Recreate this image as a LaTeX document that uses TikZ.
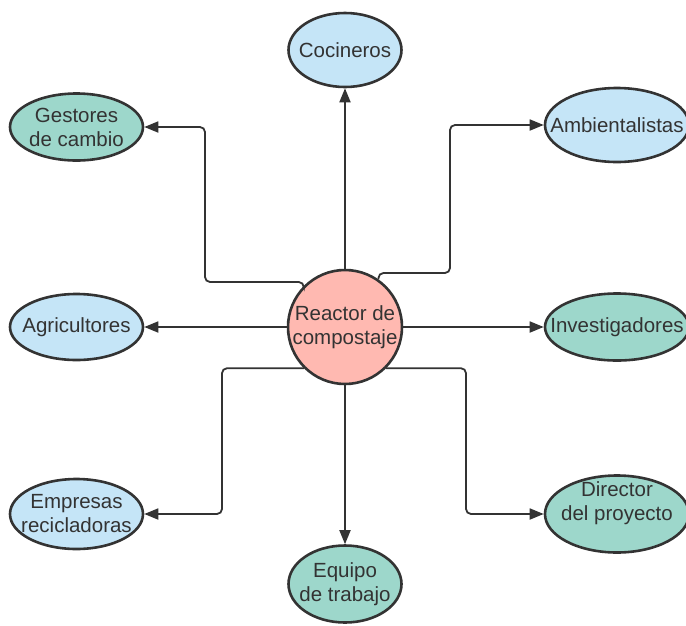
\documentclass[tikz,border=0pt]{standalone}
\usepackage{fontspec}
\setmainfont{Liberation Sans}
\usetikzlibrary{shapes.geometric,arrows.meta}
\definecolor{celeste}{RGB}{197,229,247}
\definecolor{verdeagua}{RGB}{157,215,203}
\definecolor{salmon}{RGB}{255,185,177}
\definecolor{trazo}{RGB}{51,51,51}
\tikzset{
  actor/.style={ellipse, draw=trazo, line width=2.6pt, inner sep=-20pt, align=center,
    text=trazo, font=\fontsize{20.5}{24}\selectfont},
  azul/.style={actor, fill=celeste},
  verde/.style={actor, fill=verdeagua},
  link/.style={draw=trazo, line width=1.8pt, rounded corners=5pt,
    -{Triangle[length=14pt,width=11pt]}}
}
\begin{document}
\begin{tikzpicture}[x=1pt,y=-1pt]
  \useasboundingbox (0,0) rectangle (686,625);

  \node[circle, draw=trazo, fill=salmon, line width=2.6pt, minimum size=114pt, inner sep=-20pt,
    align=center, text=trazo, font=\fontsize{20.5}{24}\selectfont] (reactor) at (345,327)
    {Reactor de\\compostaje};

  \node[azul, minimum width=113pt, minimum height=74pt] (cocin) at (345,50) {Cocineros};
  \node[verde, minimum width=133pt, minimum height=67pt] (gestor) at (76.5,127) {Gestores\\de cambio};
  \node[azul, minimum width=144pt, minimum height=74pt] (ambient) at (617,125) {Ambientalistas};
  \node[azul, minimum width=133pt, minimum height=66pt] (agric) at (76.5,327) {Agricultores};
  \node[verde, minimum width=144pt, minimum height=67pt] (invest) at (617,327) {Investigadores};
  \node[azul, minimum width=133pt, minimum height=70pt] (empres) at (76.5,514) {Empresas\\recicladoras};
  \node[verde, minimum width=144pt, minimum height=77pt] (direct) at (617,514) {Director\\del proyecto\\[2pt]};
  \node[verde, minimum width=113pt, minimum height=77pt] (equipo) at (345,584) {Equipo\\de trabajo};

  \draw[link] (reactor) -- (cocin);
  \draw[link] (reactor) -- (equipo);
  \draw[link] (reactor) -- (agric);
  \draw[link] (reactor) -- (invest);
  \draw[link] (reactor.135) |- (205,282) |- (gestor.east);
  \draw[link] (reactor.55) |- (450,273) |- (ambient.west);
  \draw[link] (reactor.225) -| (222,440) |- (empres.east);
  \draw[link] (reactor.315) -| (466,440) |- (direct.west);
\end{tikzpicture}
\end{document}
